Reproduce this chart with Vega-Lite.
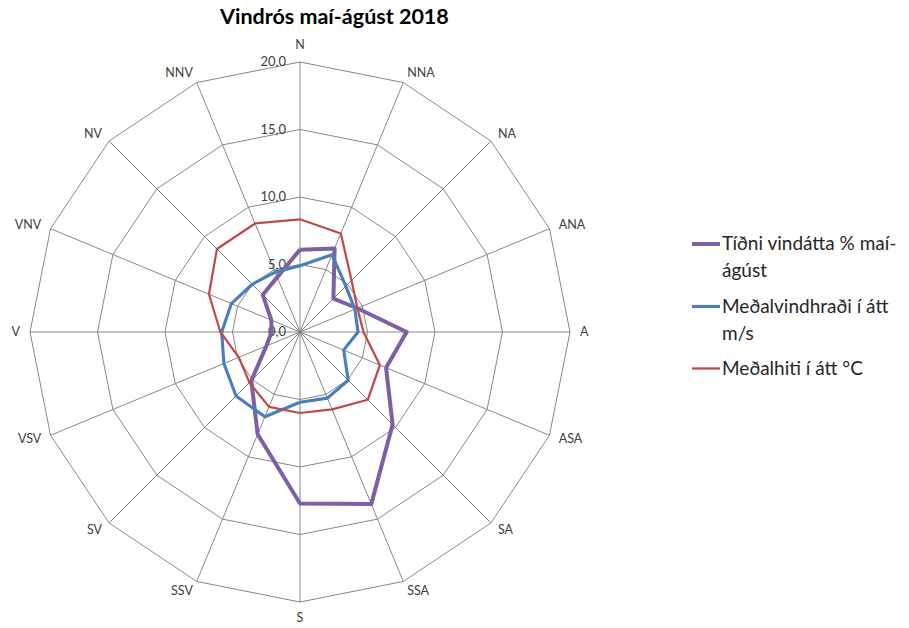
{
  "$schema": "https://vega.github.io/schema/vega-lite/v6.json",
  "width": 909,
  "height": 628,
  "autosize": {"type": "none"},
  "padding": 0,
  "background": "white",
  "title": {
    "text": "Vindrós maí-ágúst 2018",
    "anchor": "start",
    "frame": "group",
    "dx": 220,
    "offset": -28,
    "font": "Lato",
    "fontSize": 21.5,
    "fontWeight": "bold",
    "color": "#000000"
  },
  "config": {
    "view": {"stroke": null},
    "legend": {
      "labelFont": "Lato",
      "labelFontSize": 19,
      "labelColor": "#262626"
    }
  },
  "datasets": {
    "dirs": [
      {"dir": "N", "i": 0, "rings": [5, 10, 15, 20]},
      {"dir": "NNA", "i": 1, "rings": [5, 10, 15, 20]},
      {"dir": "NA", "i": 2, "rings": [5, 10, 15, 20]},
      {"dir": "ANA", "i": 3, "rings": [5, 10, 15, 20]},
      {"dir": "A", "i": 4, "rings": [5, 10, 15, 20]},
      {"dir": "ASA", "i": 5, "rings": [5, 10, 15, 20]},
      {"dir": "SA", "i": 6, "rings": [5, 10, 15, 20]},
      {"dir": "SSA", "i": 7, "rings": [5, 10, 15, 20]},
      {"dir": "S", "i": 8, "rings": [5, 10, 15, 20]},
      {"dir": "SSV", "i": 9, "rings": [5, 10, 15, 20]},
      {"dir": "SV", "i": 10, "rings": [5, 10, 15, 20]},
      {"dir": "VSV", "i": 11, "rings": [5, 10, 15, 20]},
      {"dir": "V", "i": 12, "rings": [5, 10, 15, 20]},
      {"dir": "VNV", "i": 13, "rings": [5, 10, 15, 20]},
      {"dir": "NV", "i": 14, "rings": [5, 10, 15, 20]},
      {"dir": "NNV", "i": 15, "rings": [5, 10, 15, 20]},
      {"dir": "N", "i": 16, "rings": [5, 10, 15, 20]}
    ],
    "series": [
      {"dir": "N", "i": 0, "tidni": 6.1, "vind": 4.9, "hiti": 8.35},
      {"dir": "NNA", "i": 1, "tidni": 6.7, "vind": 6.2, "hiti": 7.9},
      {"dir": "NA", "i": 2, "tidni": 3.5, "vind": 4.8, "hiti": 5.4},
      {"dir": "ANA", "i": 3, "tidni": 4.6, "vind": 4.4, "hiti": 4.6},
      {"dir": "A", "i": 4, "tidni": 7.9, "vind": 4.3, "hiti": 4.7},
      {"dir": "ASA", "i": 5, "tidni": 6.9, "vind": 3.5, "hiti": 6.4},
      {"dir": "SA", "i": 6, "tidni": 9.7, "vind": 5.05, "hiti": 7.1},
      {"dir": "SSA", "i": 7, "tidni": 13.8, "vind": 5.3, "hiti": 6.2},
      {"dir": "S", "i": 8, "tidni": 12.7, "vind": 5.2, "hiti": 6.0},
      {"dir": "SSV", "i": 9, "tidni": 8.2, "vind": 6.8, "hiti": 6.0},
      {"dir": "SV", "i": 10, "tidni": 5.1, "vind": 6.7, "hiti": 5.3},
      {"dir": "VSV", "i": 11, "tidni": 2.7, "vind": 6.1, "hiti": 4.9},
      {"dir": "V", "i": 12, "tidni": 2.1, "vind": 5.8, "hiti": 5.9},
      {"dir": "VNV", "i": 13, "tidni": 2.3, "vind": 5.5, "hiti": 7.3},
      {"dir": "NV", "i": 14, "tidni": 3.9, "vind": 5.0, "hiti": 8.7},
      {"dir": "NNV", "i": 15, "tidni": 4.4, "vind": 4.8, "hiti": 8.7},
      {"dir": "N", "i": 16, "tidni": 6.1, "vind": 4.9, "hiti": 8.35}
    ],
    "ticks": [
      {"v": 0, "t": "0,0"},
      {"v": 5, "t": "5,0"},
      {"v": 10, "t": "10,0"},
      {"v": 15, "t": "15,0"},
      {"v": 20, "t": "20,0"}
    ]
  },
  "layer": [
    {
      "data": {"name": "dirs"},
      "transform": [
        {"filter": "datum.i < 16"},
        {"calculate": "0", "as": "z"},
        {"calculate": "20*sin(datum.i*PI/8)", "as": "gx"},
        {"calculate": "20*cos(datum.i*PI/8)", "as": "gy"}
      ],
      "mark": {"type": "rule", "color": "#878787", "strokeWidth": 1},
      "encoding": {
        "x": {"field": "z", "type": "quantitative", "scale": {"domain": [-22.2222, 45.1111], "nice": false, "zero": false}, "axis": null},
        "y": {"field": "z", "type": "quantitative", "scale": {"domain": [-21.9259, 24.5926], "nice": false, "zero": false}, "axis": null},
        "x2": {"field": "gx"},
        "y2": {"field": "gy"}
      }
    },
    {
      "data": {"name": "dirs"},
      "transform": [
        {"flatten": ["rings"], "as": ["ring"]},
        {"calculate": "datum.ring*sin(datum.i*PI/8)", "as": "gx"},
        {"calculate": "datum.ring*cos(datum.i*PI/8)", "as": "gy"}
      ],
      "mark": {"type": "line", "color": "#878787", "strokeWidth": 1},
      "encoding": {
        "x": {"field": "gx", "type": "quantitative", "axis": null},
        "y": {"field": "gy", "type": "quantitative", "axis": null},
        "detail": {"field": "ring", "type": "nominal"},
        "order": {"field": "i", "type": "quantitative"}
      }
    },
    {
      "data": {"name": "ticks"},
      "transform": [{"calculate": "0", "as": "z"}],
      "mark": {"type": "text", "align": "right", "baseline": "middle", "dx": -14, "font": "Lato", "fontSize": 13, "color": "#404040"},
      "encoding": {
        "x": {"field": "z", "type": "quantitative"},
        "y": {"field": "v", "type": "quantitative"},
        "text": {"field": "t", "type": "nominal"}
      }
    },
    {
      "data": {"name": "dirs"},
      "transform": [
        {"filter": "datum.i >= 1 && datum.i <= 7"},
        {"calculate": "20.74*sin(datum.i*PI/8)", "as": "lx"},
        {"calculate": "20.74*cos(datum.i*PI/8)", "as": "ly"}
      ],
      "mark": {"type": "text", "align": "left", "baseline": "middle", "font": "Lato", "fontSize": 12.5, "color": "#404040"},
      "encoding": {
        "x": {"field": "lx", "type": "quantitative"},
        "y": {"field": "ly", "type": "quantitative"},
        "text": {"field": "dir", "type": "nominal"}
      }
    },
    {
      "data": {"name": "dirs"},
      "transform": [
        {"filter": "datum.i >= 9 && datum.i <= 15"},
        {"calculate": "20.74*sin(datum.i*PI/8)", "as": "lx"},
        {"calculate": "20.74*cos(datum.i*PI/8)", "as": "ly"}
      ],
      "mark": {"type": "text", "align": "right", "baseline": "middle", "font": "Lato", "fontSize": 12.5, "color": "#404040"},
      "encoding": {
        "x": {"field": "lx", "type": "quantitative"},
        "y": {"field": "ly", "type": "quantitative"},
        "text": {"field": "dir", "type": "nominal"}
      }
    },
    {
      "data": {"name": "dirs"},
      "transform": [
        {"filter": "datum.i == 0"},
        {"calculate": "20.74*sin(datum.i*PI/8)", "as": "lx"},
        {"calculate": "20.74*cos(datum.i*PI/8)", "as": "ly"}
      ],
      "mark": {"type": "text", "align": "center", "baseline": "bottom", "font": "Lato", "fontSize": 12.5, "color": "#404040"},
      "encoding": {
        "x": {"field": "lx", "type": "quantitative"},
        "y": {"field": "ly", "type": "quantitative"},
        "text": {"field": "dir", "type": "nominal"}
      }
    },
    {
      "data": {"name": "dirs"},
      "transform": [
        {"filter": "datum.i == 8"},
        {"calculate": "20.74*sin(datum.i*PI/8)", "as": "lx"},
        {"calculate": "20.74*cos(datum.i*PI/8)", "as": "ly"}
      ],
      "mark": {"type": "text", "align": "center", "baseline": "top", "font": "Lato", "fontSize": 12.5, "color": "#404040"},
      "encoding": {
        "x": {"field": "lx", "type": "quantitative"},
        "y": {"field": "ly", "type": "quantitative"},
        "text": {"field": "dir", "type": "nominal"}
      }
    },
    {
      "data": {"name": "series"},
      "transform": [
        {"fold": ["tidni", "vind", "hiti"], "as": ["key", "val"]},
        {"calculate": "datum.val*sin(datum.i*PI/8)", "as": "px"},
        {"calculate": "datum.val*cos(datum.i*PI/8)", "as": "py"}
      ],
      "mark": {"type": "line", "strokeJoin": "round"},
      "encoding": {
        "x": {"field": "px", "type": "quantitative"},
        "y": {"field": "py", "type": "quantitative"},
        "order": {"field": "i", "type": "quantitative"},
        "color": {
          "field": "key",
          "type": "nominal",
          "scale": {"domain": ["tidni", "vind", "hiti"], "range": ["#7D5FA6", "#4A7EBB", "#BE4B48"]},
          "legend": {
            "title": null,
            "orient": "none",
            "legendX": 690,
            "legendY": 228,
            "symbolType": "stroke",
            "symbolSize": 784,
            "symbolStrokeWidth": 3,
            "rowPadding": 9.5,
            "labelOffset": 0,
            "labelLimit": 300,
            "labelExpr": "datum.label == 'tidni' ? ['Tíðni vindátta % maí-', 'ágúst'] : datum.label == 'vind' ? ['Meðalvindhraði í átt', 'm/s'] : 'Meðalhiti í átt °C'",
            "encode": {
              "labels": {"update": {"lineHeight": {"value": 27}}},
              "symbols": {"update": {"strokeWidth": {"signal": "datum.value == 'tidni' ? 4 : 2.5"}}}
            }
          }
        },
        "strokeWidth": {
          "field": "key",
          "type": "nominal",
          "scale": {"domain": ["tidni", "vind", "hiti"], "range": [4, 2.25, 2.25]},
          "legend": null
        }
      }
    }
  ]
}
